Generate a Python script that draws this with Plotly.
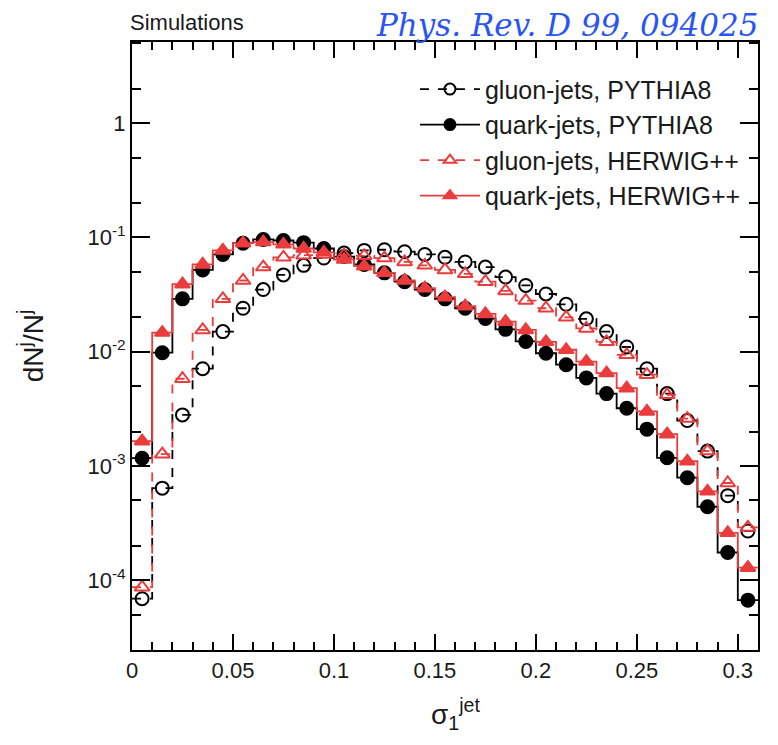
import plotly.graph_objects as go

# bin edges / centers (width 0.01 from 0 to 0.31)
bin_edges = [round(0.01 * i, 2) for i in range(32)]
bin_centers = [round(0.005 + 0.01 * i, 3) for i in range(31)]

gluon_pythia8 = [6.9e-5, 6.4e-4, 0.0028, 0.0071, 0.015, 0.024, 0.035, 0.047, 0.057, 0.066,
                 0.073, 0.077, 0.078, 0.075, 0.071, 0.067, 0.061, 0.055, 0.045, 0.038,
                 0.032, 0.026, 0.0194, 0.015, 0.011, 0.0071, 0.0043, 0.0025, 0.00135, 0.00055,
                 0.00027]
quark_pythia8 = [1.17e-3, 9.8e-3, 0.029, 0.052, 0.071, 0.089, 0.096, 0.094, 0.090, 0.080,
                 0.068, 0.058, 0.049, 0.041, 0.035, 0.029, 0.024, 0.0195, 0.0157, 0.0123,
                 0.0097, 0.0077, 0.0059, 0.0043, 0.0032, 0.0021, 0.00118, 0.00079, 0.00044, 0.000175,
                 0.000067]
gluon_herwig = [8.7e-5, 1.27e-3, 0.0058, 0.0155, 0.029, 0.042, 0.055, 0.067, 0.070, 0.071,
                0.070, 0.069, 0.066, 0.061, 0.057, 0.052, 0.048, 0.041, 0.034, 0.028,
                0.024, 0.020, 0.016, 0.0122, 0.0094, 0.0063, 0.0042, 0.0026, 0.00135, 0.00071,
                0.00029]
quark_herwig = [1.65e-3, 0.0147, 0.039, 0.058, 0.077, 0.089, 0.091, 0.087, 0.080, 0.074,
                0.064, 0.056, 0.049, 0.042, 0.036, 0.030, 0.025, 0.0214, 0.0183, 0.0155,
                0.0122, 0.0104, 0.0082, 0.0065, 0.0048, 0.0030, 0.0019, 0.0011, 0.0006, 0.00026,
                0.000129]

series_names = ["gluon-jets, PYTHIA8", "quark-jets, PYTHIA8",
                "gluon-jets, HERWIG++", "quark-jets, HERWIG++"]

y_tickvals = [1e-4, 1e-3, 1e-2, 1e-1, 1]
y_ticktext = ["10<sup>-4</sup>", "10<sup>-3</sup>", "10<sup>-2</sup>", "10<sup>-1</sup>", "1"]
x_tickvals = [0, 0.05, 0.1, 0.15, 0.2, 0.25, 0.3]
x_ticktext = ["0", "0.05", "0.1", "0.15", "0.2", "0.25", "0.3"]

BLACK = "#000000"
RED = "#ea3c3c"

styles = [
    dict(data=gluon_pythia8, color=BLACK, dash="dash", symbol="circle-open", size=13),
    dict(data=quark_pythia8, color=BLACK, dash="solid", symbol="circle", size=13),
    dict(data=gluon_herwig, color=RED, dash="dash", symbol="triangle-up-open", size=13),
    dict(data=quark_herwig, color=RED, dash="solid", symbol="triangle-up", size=13),
]

fig = go.Figure()
for name, st in zip(series_names, styles):
    vals = st["data"]
    fig.add_trace(go.Scatter(
        x=bin_edges, y=list(vals) + [vals[-1]], mode="lines", line_shape="hv",
        line=dict(color=st["color"], width=1.8, dash=st["dash"]),
        showlegend=False, hoverinfo="skip"))
    fig.add_trace(go.Scatter(
        x=bin_centers, y=vals, mode="markers",
        marker=dict(symbol=st["symbol"], size=st["size"], color=st["color"],
                    line=dict(color=st["color"], width=2)),
        showlegend=False, name=name))
    # legend entry
    fig.add_trace(go.Scatter(
        x=[None], y=[None], mode="lines+markers", name=name, legendgroup=name,
        line=dict(color=st["color"], width=1.8, dash=st["dash"]),
        marker=dict(symbol=st["symbol"], size=11, color=st["color"],
                    line=dict(color=st["color"], width=2))))

axis_font = dict(family="Liberation Sans, Arial, sans-serif", size=22, color="#1a1a1a")

fig.update_layout(
    width=770, height=737,
    margin=dict(l=124, r=20, t=34, b=95),
    paper_bgcolor="white", plot_bgcolor="white",
    font=dict(family="Liberation Sans, Arial, sans-serif", color="#1a1a1a"),
    legend=dict(x=0.452, y=0.96, xanchor="left", yanchor="top",
                font=dict(size=25, color="#1a1a1a"), bgcolor="rgba(0,0,0,0)",
                tracegroupgap=0, traceorder="grouped", itemwidth=60),
    xaxis=dict(range=[0, 0.31], tickvals=x_tickvals, ticktext=x_ticktext,
               ticks="inside", ticklen=16, tickwidth=1.5, tickcolor="black",
               showline=True, linecolor="black", linewidth=2, mirror="ticks",
               showgrid=False, zeroline=False, tickfont=axis_font, automargin=False,
               minor=dict(dtick=0.01, tick0=0, ticks="inside", ticklen=8,
                          tickwidth=1.5, tickcolor="black", showgrid=False)),
    yaxis=dict(type="log", range=[-4.61, 0.71], tickvals=y_tickvals, ticktext=y_ticktext,
               ticks="inside", ticklen=18, tickwidth=1.5, tickcolor="black",
               showline=True, linecolor="black", linewidth=2, mirror="ticks",
               showgrid=False, zeroline=False, tickfont=axis_font, automargin=False,
               minor=dict(ticks="inside", ticklen=9, tickwidth=1.5, tickcolor="black",
                          showgrid=False),
               title=dict(text="dN<sup>j</sup>/N<sup>j</sup>",
                          font=dict(size=28, color="#1a1a1a"), standoff=36)),
    annotations=[
        dict(text="σ<sub>1</sub><sup>jet</sup>", x=0.474, y=0, xref="paper", yref="paper",
             xanchor="left", yanchor="middle", yshift=-64, showarrow=False,
             font=dict(size=28, color="#1a1a1a", family="Liberation Sans, Arial")),
        dict(text="Simulations", x=0, y=1.0, xref="paper", yref="paper",
             xanchor="left", yanchor="middle", yshift=20, xshift=-4, showarrow=False,
             font=dict(size=22, color="#1a1a1a", family="Liberation Sans, Arial")),
        dict(text="<i>Phys. Rev. D 99, 094025</i>", x=1.0, y=1.0, xref="paper", yref="paper",
             xanchor="right", yanchor="middle", yshift=17, xshift=2, showarrow=False,
             font=dict(size=31, color="#2a55f5", family="DejaVu Serif, serif")),
    ],
)

fig.write_html("out.html")
